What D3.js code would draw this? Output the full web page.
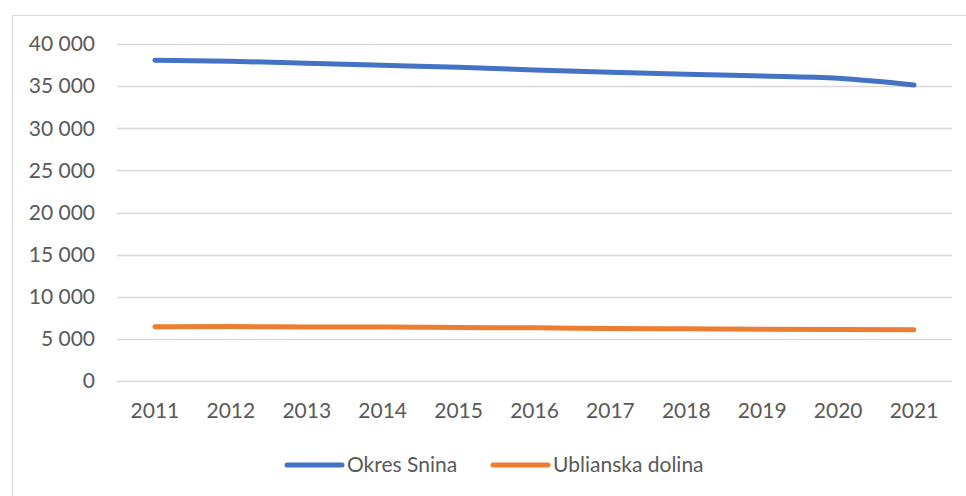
<!DOCTYPE html>
<html>
<head>
<meta charset="utf-8">
<script src="https://cdn.jsdelivr.net/npm/d3@7"></script>
<style>
  body { margin: 0; background: #fff; }
  svg text { font-family: Lato, "Open Sans", sans-serif; fill: #595959; }
</style>
</head>
<body>
<svg id="graph" width="966" height="496"></svg>
<script>
// data
const years = [2011, 2012, 2013, 2014, 2015, 2016, 2017, 2018, 2019, 2020, 2021];
const okresSnina = [38060, 37950, 37710, 37470, 37230, 36920, 36640, 36400, 36200, 35930, 35130];
const ublianskaDolina = [6450, 6460, 6420, 6400, 6350, 6310, 6240, 6190, 6140, 6100, 6080];
const yTicks = [0, 5000, 10000, 15000, 20000, 25000, 30000, 35000, 40000];

const seriesNames = ["Okres Snina", "Ublianska dolina"];
const seriesColors = ["#4472C4", "#ED7D31"];
const series = [okresSnina, ublianskaDolina];

const svg = d3.select("#graph");

// chart frame (left + top border only visible)
svg.append("path")
    .attr("d", "M12.5,496 L12.5,15.5 L966,15.5")
    .attr("fill", "none")
    .attr("stroke", "#d9d9d9")
    .attr("stroke-width", 1);

const plot = { left: 117, right: 952, top: 44, bottom: 381 };

const x = d3.scaleBand()
    .domain(years)
    .range([plot.left, plot.right]);

const y = d3.scaleLinear()
    .domain([0, 40000])
    .range([plot.bottom, plot.top]);

const fmt = v => d3.format(",")(v).replace(/,/g, " ");

// gridlines
svg.append("g")
    .selectAll("line")
    .data(yTicks)
    .enter().append("line")
        .attr("x1", plot.left)
        .attr("x2", plot.right)
        .attr("y1", d => Math.round(y(d)) + 0.5)
        .attr("y2", d => Math.round(y(d)) + 0.5)
        .attr("stroke", "#d9d9d9")
        .attr("stroke-width", 1.5);

// y labels
svg.append("g")
    .selectAll("text")
    .data(yTicks)
    .enter().append("text")
        .attr("x", 95)
        .attr("y", d => y(d))
        .attr("dy", "0.35em")
        .attr("text-anchor", "end")
        .style("font-size", "21px")
        .text(d => fmt(d));

// x labels
svg.append("g")
    .selectAll("text")
    .data(years)
    .enter().append("text")
        .attr("x", d => x(d) + x.bandwidth() / 2)
        .attr("y", 418)
        .attr("text-anchor", "middle")
        .style("font-size", "21px")
        .text(d => d);

// lines
const line = d3.line()
    .x((d, i) => x(years[i]) + x.bandwidth() / 2)
    .y(d => y(d))
    .curve(d3.curveMonotoneX);

series.forEach((s, k) => {
    svg.append("path")
        .datum(s)
        .attr("fill", "none")
        .attr("stroke", seriesColors[k])
        .attr("stroke-width", 5)
        .attr("stroke-linecap", "round")
        .attr("stroke-linejoin", "round")
        .attr("d", line);
});

// legend
const legendX = [287, 493];
const legend = svg.append("g");
seriesNames.forEach((name, k) => {
    legend.append("line")
        .attr("x1", legendX[k])
        .attr("x2", legendX[k] + 55)
        .attr("y1", 465)
        .attr("y2", 465)
        .attr("stroke", seriesColors[k])
        .attr("stroke-width", 5)
        .attr("stroke-linecap", "round");
    legend.append("text")
        .attr("x", legendX[k] + 60)
        .attr("y", 465)
        .attr("dy", "0.35em")
        .style("font-size", "21px")
        .text(name);
});
</script>
</body>
</html>
